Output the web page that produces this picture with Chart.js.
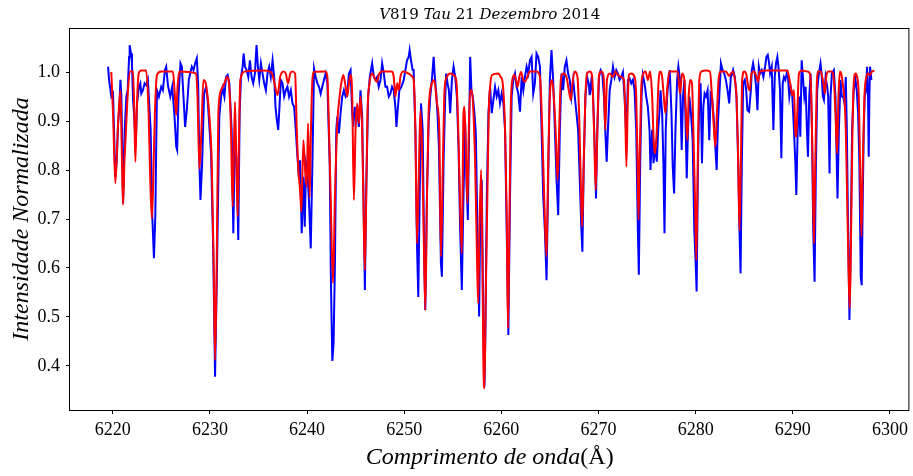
<!DOCTYPE html>
<html>
<head>
<meta charset="utf-8">
<script src="https://cdn.jsdelivr.net/npm/chart.js@4.4.1/dist/chart.umd.min.js"></script>
<style>html,body{margin:0;padding:0;background:#fff;}canvas{display:block;}</style>
</head>
<body>
<canvas id="c" width="913" height="476"></canvas>
<script>
// ---- Data ----
const modelWave = [6219.85,6220.03,6220.27,6220.55,6220.79,6220.92,6221.06,6221.20,6221.33,6221.57,6221.81,6222.09,6222.22,6222.33,6222.46,6222.67,6222.94,6223.45,6223.69,6223.86,6224.03,6224.17,6224.34,6224.55,6224.99,6226.19,6226.36,6226.53,6226.67,6226.87,6228.58,6228.72,6228.92,6229.13,6229.33,6229.61,6229.95,6230.19,6230.39,6230.53,6230.70,6230.87,6231.15,6231.49,6231.76,6232.00,6232.17,6232.34,6232.58,6232.72,6232.86,6232.99,6233.13,6233.61,6235.59,6236.27,6236.45,6236.69,6236.96,6237.23,6237.57,6237.81,6238.05,6238.26,6238.50,6238.77,6238.94,6239.11,6239.28,6239.42,6239.62,6239.80,6239.97,6240.10,6240.27,6240.40,6240.55,6240.72,6241.91,6242.09,6242.26,6242.43,6242.67,6242.87,6243.11,6243.35,6243.52,6243.73,6243.97,6244.14,6244.31,6244.48,6244.65,6244.82,6244.99,6245.16,6245.33,6245.50,6245.67,6245.85,6245.95,6246.09,6246.22,6246.43,6246.70,6247.04,6247.21,6247.38,6247.73,6248.75,6248.92,6249.09,6249.27,6249.44,6249.61,6249.88,6250.46,6250.87,6250.97,6251.15,6251.32,6251.49,6251.66,6251.83,6252.00,6252.17,6252.34,6252.51,6252.68,6252.85,6253.09,6253.37,6253.61,6253.78,6253.98,6254.15,6254.39,6254.73,6255.08,6255.35,6255.52,6255.69,6255.93,6256.10,6256.21,6256.38,6256.51,6256.65,6256.79,6256.96,6257.13,6257.30,6257.47,6257.61,6257.74,6257.92,6258.02,6258.15,6258.26,6258.39,6258.56,6258.70,6258.84,6259.04,6259.69,6259.93,6260.14,6260.38,6260.55,6260.68,6260.82,6260.96,6261.13,6261.33,6261.51,6261.68,6261.85,6262.02,6262.26,6262.43,6262.67,6262.94,6263.62,6263.97,6264.21,6264.41,6264.65,6264.82,6264.99,6265.23,6265.44,6265.61,6265.78,6265.95,6266.12,6266.36,6266.70,6266.94,6267.15,6267.32,6267.56,6267.83,6268.00,6268.17,6268.31,6268.48,6268.65,6268.82,6269.09,6269.33,6269.54,6269.71,6269.88,6270.05,6270.29,6270.53,6270.70,6270.87,6271.15,6271.49,6271.73,6272.00,6272.34,6272.62,6272.75,6272.87,6272.99,6273.13,6273.37,6273.71,6273.88,6274.02,6274.12,6274.22,6274.39,6274.56,6274.84,6275.08,6275.32,6275.52,6275.69,6275.83,6276.00,6276.17,6276.38,6276.55,6276.72,6276.89,6277.06,6277.30,6278.15,6278.39,6278.60,6278.84,6279.01,6279.15,6279.28,6279.45,6279.62,6279.76,6279.93,6280.07,6280.21,6280.38,6280.58,6281.06,6281.47,6281.68,6281.85,6282.02,6282.19,6282.36,6282.60,6283.11,6283.45,6283.62,6283.86,6284.03,6284.20,6284.38,6284.51,6284.65,6284.79,6284.99,6285.23,6285.40,6285.57,6285.74,6286.02,6286.26,6286.43,6286.60,6287.21,6289.44,6289.61,6289.78,6289.95,6290.12,6290.26,6290.36,6290.46,6290.63,6290.97,6291.49,6291.76,6291.90,6292.04,6292.17,6292.31,6292.45,6292.62,6292.86,6293.03,6293.20,6293.30,6293.44,6293.64,6293.98,6294.22,6294.39,6294.56,6294.70,6294.84,6295.01,6295.18,6295.32,6295.45,6295.59,6295.76,6295.86,6296.00,6296.14,6296.27,6296.45,6296.62,6296.79,6296.92,6297.06,6297.20,6297.37,6297.57,6297.74,6297.91,6298.15,6298.39];
const modelFlux = [1.000,0.916,0.773,0.895,0.963,0.848,0.729,0.814,0.868,0.963,1.001,1.001,0.916,0.817,0.916,0.997,1.003,1.003,0.916,0.780,0.701,0.780,0.916,0.994,1.001,1.001,0.963,0.912,0.970,1.001,0.997,0.950,0.803,0.882,0.984,0.973,0.909,0.814,0.609,0.412,0.609,0.916,0.963,0.977,0.990,0.967,0.882,0.725,0.939,0.820,0.705,0.860,0.984,1.001,1.003,1.000,0.994,0.973,0.953,0.990,1.001,0.997,0.977,0.997,1.001,0.997,0.882,0.800,0.759,0.715,0.861,0.800,0.766,0.895,0.745,0.882,0.984,1.000,1.001,0.990,0.882,0.745,0.569,0.745,0.895,0.950,0.977,0.994,0.970,0.950,0.977,0.994,0.950,0.739,0.882,0.936,0.895,0.950,0.882,0.677,0.596,0.745,0.916,0.977,0.997,0.984,0.980,0.994,1.001,1.001,0.990,0.950,0.977,0.963,0.990,1.001,0.997,0.990,0.984,0.882,0.650,0.780,0.922,0.848,0.677,0.514,0.745,0.916,0.963,0.977,0.984,0.936,0.882,0.623,0.814,0.963,0.990,0.997,0.994,0.984,0.916,0.780,0.630,0.916,0.929,0.814,0.732,0.882,0.963,0.963,0.916,0.814,0.643,0.528,0.677,0.800,0.677,0.405,0.354,0.541,0.745,0.916,0.970,0.994,0.997,0.990,0.977,0.882,0.712,0.477,0.677,0.916,0.984,0.994,0.984,0.970,0.990,1.000,0.984,0.980,0.990,1.001,1.001,0.990,0.882,0.745,0.623,0.814,0.950,0.984,0.936,0.868,0.780,0.882,0.984,0.997,0.990,0.963,0.943,0.977,1.001,0.990,0.916,0.780,0.684,0.814,0.950,0.997,1.001,0.994,0.882,0.759,0.882,0.994,1.001,0.990,0.882,0.984,0.997,0.990,1.001,0.994,0.990,0.984,0.916,0.807,0.916,0.994,0.997,0.990,0.950,0.814,0.698,0.814,0.963,0.994,1.001,0.984,1.001,0.950,0.854,0.834,0.882,0.977,1.001,0.990,0.950,0.916,0.963,1.001,1.001,0.956,0.997,0.984,0.909,0.861,0.950,0.984,0.977,0.882,0.745,0.616,0.814,0.984,1.001,1.003,1.001,0.950,0.895,0.848,0.916,0.984,1.001,1.001,0.992,0.997,1.001,0.984,0.950,0.814,0.677,0.814,0.984,1.001,0.994,0.970,0.963,0.997,1.001,0.990,0.980,1.001,1.003,1.003,0.990,0.970,0.953,0.963,0.875,0.868,0.916,0.997,1.003,1.001,0.997,0.950,0.814,0.650,0.814,0.963,1.001,1.001,0.990,0.970,0.956,0.990,1.001,1.001,0.984,0.916,0.834,0.950,1.001,0.994,0.970,0.943,0.882,0.745,0.575,0.518,0.677,0.882,0.977,0.997,0.990,0.950,0.814,0.664,0.814,0.950,0.990,0.997,0.994,1.001,1.003];

const obsWave = [6219.52,6219.62,6219.86,6220.03,6220.17,6220.27,6220.41,6220.55,6220.68,6220.79,6220.89,6221.06,6221.23,6221.40,6221.54,6221.68,6221.74,6221.88,6221.98,6222.09,6222.19,6222.36,6222.50,6222.70,6222.84,6222.94,6223.11,6223.28,6223.45,6223.62,6223.79,6223.90,6224.07,6224.24,6224.38,6224.55,6224.75,6224.99,6225.16,6225.37,6225.50,6225.68,6225.92,6226.12,6226.36,6226.53,6226.63,6226.77,6226.97,6227.11,6227.28,6227.45,6227.62,6227.83,6227.97,6228.14,6228.31,6228.48,6228.65,6228.79,6228.92,6229.03,6229.20,6229.40,6229.61,6229.78,6230.12,6230.33,6230.53,6230.74,6230.97,6231.15,6231.32,6231.49,6231.66,6231.83,6232.00,6232.24,6232.41,6232.58,6232.75,6232.92,6233.06,6233.20,6233.37,6233.47,6233.61,6233.78,6233.95,6234.12,6234.29,6234.46,6234.63,6234.80,6234.94,6235.08,6235.25,6235.42,6235.59,6235.76,6235.93,6236.10,6236.27,6236.45,6236.62,6236.75,6236.89,6237.03,6237.16,6237.30,6237.47,6237.64,6237.81,6237.98,6238.15,6238.33,6238.50,6238.67,6238.84,6239.01,6239.18,6239.28,6239.45,6239.62,6239.76,6239.90,6240.03,6240.21,6240.38,6240.55,6240.72,6240.89,6241.06,6241.23,6241.40,6241.57,6241.74,6241.91,6242.09,6242.33,6242.46,6242.60,6242.73,6242.87,6243.01,6243.11,6243.28,6243.45,6243.62,6243.79,6243.97,6244.14,6244.31,6244.48,6244.65,6244.75,6244.92,6245.06,6245.20,6245.33,6245.50,6245.67,6245.81,6245.95,6246.09,6246.29,6246.46,6246.70,6246.87,6247.04,6247.21,6247.38,6247.56,6247.73,6247.90,6248.07,6248.24,6248.41,6248.58,6248.75,6248.92,6249.09,6249.20,6249.33,6249.50,6249.71,6249.95,6250.12,6250.29,6250.46,6250.56,6250.70,6250.87,6250.97,6251.15,6251.32,6251.45,6251.59,6251.73,6251.90,6252.07,6252.17,6252.34,6252.51,6252.68,6252.85,6253.03,6253.13,6253.30,6253.44,6253.57,6253.78,6253.88,6254.05,6254.22,6254.32,6254.46,6254.60,6254.73,6254.91,6255.08,6255.25,6255.42,6255.59,6255.76,6255.93,6256.10,6256.27,6256.44,6256.55,6256.68,6256.79,6256.92,6257.06,6257.23,6257.37,6257.54,6257.71,6257.81,6257.98,6258.15,6258.26,6258.36,6258.50,6258.67,6258.84,6259.01,6259.18,6259.35,6259.52,6259.69,6259.86,6260.03,6260.21,6260.38,6260.55,6260.72,6260.89,6261.06,6261.23,6261.40,6261.57,6261.74,6261.92,6262.09,6262.26,6262.43,6262.60,6262.77,6262.94,6263.11,6263.28,6263.45,6263.62,6263.79,6263.97,6264.14,6264.31,6264.48,6264.65,6264.82,6264.99,6265.16,6265.33,6265.51,6265.68,6265.85,6266.02,6266.19,6266.36,6266.53,6266.70,6266.87,6267.04,6267.21,6267.39,6267.56,6267.73,6267.90,6268.07,6268.24,6268.34,6268.48,6268.65,6268.82,6268.99,6269.09,6269.27,6269.44,6269.61,6269.74,6269.88,6270.05,6270.22,6270.39,6270.56,6270.74,6270.84,6270.97,6271.15,6271.32,6271.49,6271.66,6271.83,6272.00,6272.17,6272.34,6272.51,6272.68,6272.85,6273.03,6273.20,6273.37,6273.54,6273.71,6273.88,6274.05,6274.15,6274.29,6274.43,6274.56,6274.74,6274.91,6275.08,6275.25,6275.35,6275.52,6275.66,6275.83,6276.00,6276.14,6276.27,6276.38,6276.55,6276.68,6276.79,6276.92,6277.06,6277.20,6277.33,6277.51,6277.64,6277.78,6277.92,6278.09,6278.22,6278.39,6278.56,6278.70,6278.84,6278.94,6279.08,6279.21,6279.35,6279.52,6279.69,6279.86,6280.00,6280.10,6280.24,6280.38,6280.51,6280.65,6280.79,6280.92,6281.06,6281.23,6281.40,6281.54,6281.68,6281.85,6282.02,6282.16,6282.29,6282.43,6282.60,6282.77,6282.94,6283.11,6283.28,6283.45,6283.62,6283.79,6283.86,6284.03,6284.20,6284.38,6284.51,6284.62,6284.75,6284.89,6285.06,6285.20,6285.33,6285.50,6285.68,6285.78,6285.91,6286.09,6286.22,6286.36,6286.50,6286.63,6286.80,6286.97,6287.15,6287.28,6287.42,6287.56,6287.66,6287.83,6288.00,6288.14,6288.27,6288.41,6288.55,6288.68,6288.82,6288.96,6289.09,6289.23,6289.37,6289.50,6289.64,6289.78,6289.95,6290.12,6290.26,6290.36,6290.50,6290.63,6290.77,6290.91,6291.04,6291.18,6291.32,6291.45,6291.56,6291.69,6291.83,6291.97,6292.10,6292.24,6292.38,6292.51,6292.68,6292.85,6292.96,6293.09,6293.20,6293.37,6293.54,6293.64,6293.78,6293.88,6294.02,6294.22,6294.39,6294.50,6294.60,6294.74,6294.91,6295.04,6295.18,6295.32,6295.45,6295.56,6295.69,6295.83,6295.93,6296.10,6296.27,6296.45,6296.58,6296.72,6296.85,6296.99,6297.09,6297.20,6297.30,6297.40,6297.54,6297.64,6297.74,6297.81,6297.88,6297.95,6298.09];
const obsFlux = [1.011,0.984,0.950,0.956,0.850,0.786,0.820,0.895,0.930,0.984,0.950,0.732,0.882,0.950,0.963,1.031,1.055,1.038,1.018,0.943,0.916,0.848,0.936,0.970,0.977,0.956,0.963,0.977,0.973,0.984,0.922,0.882,0.705,0.620,0.705,0.963,0.950,0.970,0.963,1.004,1.011,0.973,0.950,0.970,0.909,0.848,0.841,0.950,1.018,1.011,0.950,0.888,0.922,0.984,0.997,1.011,1.004,1.018,1.028,0.977,0.814,0.739,0.814,0.956,0.970,0.940,0.834,0.650,0.378,0.609,0.909,0.950,0.967,0.950,0.990,0.994,0.977,0.882,0.671,0.882,0.814,0.657,0.916,0.990,1.011,1.038,1.011,1.004,0.990,1.024,0.990,0.977,0.997,1.055,1.011,0.984,1.018,0.997,0.977,0.963,0.997,1.011,0.990,1.024,0.990,0.929,0.902,0.882,0.929,0.984,0.977,0.950,0.963,0.970,0.950,0.963,0.936,0.929,0.882,0.827,0.780,0.820,0.671,0.786,0.684,0.814,0.800,0.732,0.640,0.814,1.007,0.990,0.977,0.970,0.956,0.970,0.984,0.997,0.977,0.814,0.569,0.410,0.446,0.609,0.882,0.909,0.875,0.916,0.950,0.963,0.950,0.956,0.997,1.004,0.916,0.888,0.929,0.902,0.916,0.888,0.963,0.909,0.745,0.555,0.759,0.950,0.990,1.018,0.990,0.984,0.990,0.970,0.984,1.018,0.997,0.970,0.970,0.950,0.956,0.970,0.963,0.929,0.888,0.922,0.963,0.970,0.984,1.004,1.024,1.031,1.045,1.024,1.004,1.004,0.882,0.643,0.541,0.745,0.936,0.882,0.609,0.514,0.745,0.895,0.950,0.984,1.031,0.997,0.956,0.909,0.848,0.609,0.582,0.814,0.950,0.997,0.977,0.963,0.916,0.984,1.011,0.990,0.950,0.848,0.677,0.555,0.745,0.895,0.759,0.698,0.882,1.031,0.963,0.950,0.916,0.875,0.677,0.501,0.677,0.780,0.473,0.358,0.473,0.745,0.916,0.970,0.916,0.943,0.970,0.950,0.963,0.936,0.956,0.936,0.882,0.677,0.463,0.745,0.950,0.984,0.997,0.970,0.956,0.919,0.990,0.963,0.990,1.011,0.997,1.024,1.031,0.956,0.977,1.038,1.031,1.011,0.882,0.745,0.677,0.575,0.780,0.984,1.045,0.984,0.882,0.780,0.708,0.882,0.997,0.963,1.011,1.024,0.997,0.984,0.950,0.984,0.950,0.916,0.882,0.780,0.677,0.633,0.814,0.950,0.990,0.977,0.953,0.984,0.950,0.848,0.742,0.882,0.990,1.004,0.997,0.950,0.861,0.817,0.882,0.963,0.984,1.011,0.990,1.004,0.997,0.984,0.990,1.000,0.950,0.870,0.984,0.987,0.977,0.984,0.963,0.882,0.677,0.586,0.814,0.950,0.994,0.977,0.950,0.929,0.882,0.800,0.882,0.814,0.848,0.817,0.882,0.916,0.963,0.916,0.814,0.671,0.882,0.950,0.984,1.004,0.916,0.807,0.752,0.882,0.984,1.011,0.984,0.841,0.950,0.984,0.916,0.783,0.882,0.950,0.916,0.861,0.677,0.609,0.552,0.814,0.950,0.977,0.814,0.929,0.956,0.950,0.963,0.861,0.956,0.950,0.909,0.848,0.800,0.895,0.950,1.018,1.004,0.997,0.984,0.963,0.936,0.990,0.997,1.004,0.990,0.950,0.814,0.677,0.589,0.814,0.977,0.984,0.963,0.922,0.919,0.963,1.004,1.018,0.997,0.970,0.922,1.011,0.997,1.004,0.990,1.011,1.031,1.035,1.018,0.997,1.011,0.882,0.990,1.018,1.031,1.004,0.963,0.824,0.977,0.990,0.984,0.997,0.990,0.950,0.970,0.950,0.882,0.814,0.749,0.882,0.950,0.868,1.024,0.990,0.950,0.970,0.882,0.827,0.950,0.997,0.882,0.677,0.572,0.814,0.963,0.997,1.018,0.997,0.950,0.943,0.990,0.970,0.950,0.793,0.950,0.997,1.004,0.950,0.834,0.742,0.882,0.984,0.950,0.950,0.936,0.990,0.882,0.677,0.494,0.609,0.882,0.963,0.984,0.963,0.916,0.814,0.582,0.565,0.745,0.882,0.950,0.963,1.011,0.950,0.827,0.950,1.011,0.984];

const xTickValues = [6220,6230,6240,6250,6260,6270,6280,6290,6300];
const yTickValues = [0.4,0.5,0.6,0.7,0.8,0.9,1.0];
const titleParts = [["V","i"],["819 ","n"],["Tau","i"],[" 21 ","n"],["Dezembro","i"],[" 2014","n"]];
const xTitleParts = [["Comprimento de onda","i"],["(Å)","n"]];
const yTitleText = "Intensidade Normalizada";

// ---- Chart ----
const toPts = (xs, ys) => xs.map((x, i) => ({x: x, y: ys[i]}));
const SERIF = "'Liberation Serif', 'DejaVu Serif', serif";
const TSERIF = "'DejaVu Serif', 'Liberation Serif', serif";

function drawParts(ctx, parts, cx, cy, size, fam) {
  let total = 0;
  const widths = parts.map(([t, s]) => {
    ctx.font = (s === 'i' ? 'italic ' : '') + size + 'px ' + fam;
    const w = ctx.measureText(t).width; total += w; return w;
  });
  let x = cx - total / 2;
  ctx.textBaseline = 'middle'; ctx.textAlign = 'left'; ctx.fillStyle = '#000';
  parts.forEach(([t, s], i) => {
    ctx.font = (s === 'i' ? 'italic ' : '') + size + 'px ' + fam;
    ctx.fillText(t, x, cy); x += widths[i];
  });
}

const decor = {
  id: 'decor',
  afterDraw(chart) {
    const {ctx, chartArea: a} = chart;
    ctx.save();
    ctx.strokeStyle = '#000'; ctx.lineWidth = 1;
    ctx.strokeRect(a.left - 0.5, a.top + 0.5, a.right - a.left, a.bottom - a.top);
    const cx = (a.left + a.right) / 2;
    drawParts(ctx, titleParts, cx, 15, 15, TSERIF);
    drawParts(ctx, xTitleParts, cx, 458, 24, SERIF);
    ctx.translate(22, (a.top + a.bottom) / 2);
    ctx.rotate(-Math.PI / 2);
    ctx.font = 'italic 24px ' + SERIF; ctx.textAlign = 'center'; ctx.textBaseline = 'middle';
    ctx.fillText(yTitleText, 0, 0);
    ctx.restore();
  }
};

new Chart(document.getElementById('c'), {
  type: 'line',
  data: {
    datasets: [
      {data: toPts(obsWave, obsFlux), borderColor: '#0000ff', borderWidth: 2, pointRadius: 0, tension: 0, order: 2},
      {data: toPts(modelWave, modelFlux), borderColor: '#ff0000', borderWidth: 2, pointRadius: 0, cubicInterpolationMode: 'monotone', order: 1}
    ]
  },
  options: {
    responsive: false, animation: false, devicePixelRatio: 1,
    layout: {padding: {top: 28, right: 1, left: 0, bottom: 0}},
    plugins: {legend: {display: false}, tooltip: {enabled: false}, title: {display: false}},
    scales: {
      x: {
        type: 'linear', min: 6215.6, max: 6302,
        afterBuildTicks: s => { s.ticks = xTickValues.map(v => ({value: v})); },
        afterFit: s => { s.height = 66; },
        ticks: {font: {family: SERIF, size: 18}, color: '#000', padding: 5, maxRotation: 0, callback: v => String(v)},
        grid: {display: true, drawOnChartArea: false, drawTicks: true, tickLength: 4, color: '#000'},
        border: {display: false}
      },
      y: {
        type: 'linear', min: 0.31, max: 1.09,
        afterBuildTicks: s => { s.ticks = yTickValues.map(v => ({value: v})); },
        afterFit: s => { s.width = 70; },
        ticks: {font: {family: SERIF, size: 18}, color: '#000', padding: 6, callback: v => Number(v).toFixed(1)},
        grid: {display: true, drawOnChartArea: false, drawTicks: true, tickLength: 4, color: '#000'},
        border: {display: false}
      }
    }
  },
  plugins: [decor]
});
</script>
</body>
</html>
